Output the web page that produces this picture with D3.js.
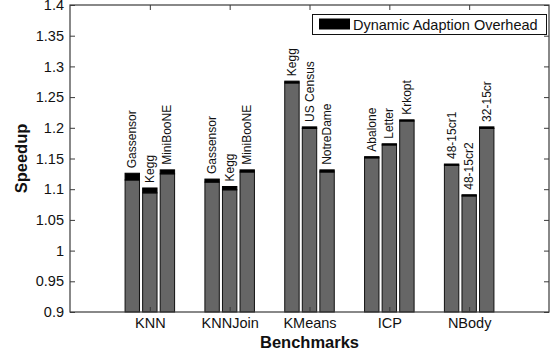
<!DOCTYPE html>
<html>
<head>
<meta charset="utf-8">
<script src="https://cdn.jsdelivr.net/npm/d3@7"></script>
<style>
  body { margin: 0; background: #fff; }
  svg text { font-family: "Liberation Sans", Arial, Helvetica, sans-serif; fill: #111; }
</style>
</head>
<body>
<div id="chart"></div>
<script>
// Benchmarks on the x axis
const benchmarks = ["KNN", "KNNJoin", "KMeans", "ICP", "NBody"];

// dataset label for each bar, per benchmark
const datasets = [
  ["Gassensor", "Kegg", "MiniBooNE"],
  ["Gassensor", "Kegg", "MiniBooNE"],
  ["Kegg", "US Census", "NotreDame"],
  ["Abalone", "Letter", "Krkopt"],
  ["48-15cr1", "48-15cr2", "32-15cr"]
];

// speedup without the adaption overhead (grey part)
const baseSpeedup = [
  [1.115, 1.094, 1.125],
  [1.1115, 1.099, 1.128],
  [1.273, 1.199, 1.128],
  [1.151, 1.172, 1.211],
  [1.139, 1.089, 1.199]
];

// dynamic adaption overhead (black cap)
const overhead = [
  [0.011, 0.008, 0.0065],
  [0.005, 0.0054, 0.0035],
  [0.003, 0.0025, 0.0035],
  [0.002, 0.002, 0.002],
  [0.002, 0.002, 0.0025]
];

const yTicks = [0.9, 0.95, 1, 1.05, 1.1, 1.15, 1.2, 1.25, 1.3, 1.35, 1.4];
const legendLabel = "Dynamic Adaption Overhead";

const width = 553, height = 356;
const margin = { top: 5, right: 4, bottom: 44, left: 70 };
const plotW = width - margin.left - margin.right;
const plotH = height - margin.top - margin.bottom;
const axisColor = "#3a3a3a";

const svg = d3.select("#chart").append("svg")
  .attr("width", width)
  .attr("height", height);

const g = svg.append("g")
  .attr("transform", `translate(${margin.left},${margin.top})`);

// categories sit at 1..5 on a 0..6 axis
const xScale = d3.scaleLinear().domain([0, 6]).range([0, plotW]);
const yScale = d3.scaleLinear().domain([0.9, 1.4]).range([plotH, 0]);
const subScale = d3.scaleBand().domain([0, 1, 2])
  .range([-0.33, 0.33]).paddingInner(0.18).paddingOuter(0.09);

// flatten into bar records
const bars = [];
benchmarks.forEach((b, i) => {
  datasets[i].forEach((name, j) => {
    bars.push({
      bench: b,
      name: name,
      pos: i + 1,
      sub: j,
      base: baseSpeedup[i][j],
      extra: overhead[i][j]
    });
  });
});

const barX = d => xScale(d.pos + subScale(d.sub));
const barW = xScale(subScale.bandwidth()) - xScale(0);

// grey bars
g.append("g").selectAll("rect")
  .data(bars)
  .join("rect")
  .attr("x", barX)
  .attr("width", barW)
  .attr("y", d => yScale(d.base))
  .attr("height", d => yScale(0.9) - yScale(d.base))
  .attr("fill", "#666")
  .attr("stroke", "#111")
  .attr("stroke-width", 1);

// overhead caps
g.append("g").selectAll("rect")
  .data(bars)
  .join("rect")
  .attr("x", barX)
  .attr("width", barW)
  .attr("y", d => yScale(d.base + d.extra))
  .attr("height", d => yScale(d.base) - yScale(d.base + d.extra))
  .attr("fill", "#000")
  .attr("stroke", "#000")
  .attr("stroke-width", 1);

// dataset labels above each bar
g.append("g").selectAll("text")
  .data(bars)
  .join("text")
  .attr("transform", d => {
    const cx = barX(d) + barW / 2 + 4;
    const cy = yScale(d.base + d.extra) - 5;
    return `translate(${cx},${cy}) rotate(-90)`;
  })
  .attr("text-anchor", "start")
  .style("font-size", "12px")
  .text(d => d.name);

// frame
g.append("rect")
  .attr("width", plotW)
  .attr("height", plotH)
  .attr("fill", "none")
  .attr("stroke", axisColor)
  .attr("stroke-width", 1.2);

// y axis (left) with inward ticks
const yAxis = g.append("g")
  .call(d3.axisLeft(yScale).tickValues(yTicks)
    .tickSize(-5).tickPadding(6).tickFormat(d => String(+d.toFixed(2))));
yAxis.select(".domain").remove();
yAxis.selectAll("line").attr("stroke", axisColor);
yAxis.selectAll("text").style("font-size", "14.5px").attr("fill", "#222");

// right ticks
const yRight = g.append("g")
  .attr("transform", `translate(${plotW},0)`)
  .call(d3.axisRight(yScale).tickValues(yTicks).tickSize(-5).tickFormat(""));
yRight.select(".domain").remove();
yRight.selectAll("line").attr("stroke", axisColor);

// x axis (bottom)
const xAxis = g.append("g")
  .attr("transform", `translate(0,${plotH})`)
  .call(d3.axisBottom(xScale).tickValues(d3.range(1, 6))
    .tickSize(-5).tickPadding(6).tickFormat(d => benchmarks[d - 1]));
xAxis.select(".domain").remove();
xAxis.selectAll("line").attr("stroke", axisColor);
xAxis.selectAll("text").style("font-size", "14.5px").attr("fill", "#222");

// top ticks
const xTop = g.append("g")
  .call(d3.axisTop(xScale).tickValues(d3.range(1, 6)).tickSize(-5).tickFormat(""));
xTop.select(".domain").remove();
xTop.selectAll("line").attr("stroke", axisColor);

// axis titles
svg.append("text")
  .attr("x", margin.left + xScale(3))
  .attr("y", 348)
  .attr("text-anchor", "middle")
  .style("font-size", "16.5px")
  .style("font-weight", "bold")
  .text("Benchmarks");

svg.append("text")
  .attr("transform", `translate(27,${margin.top + plotH / 2}) rotate(-90)`)
  .attr("text-anchor", "middle")
  .style("font-size", "16.5px")
  .style("font-weight", "bold")
  .text("Speedup");

// legend
const legend = svg.append("g").attr("transform", "translate(312.5,14.5)");
legend.append("rect")
  .attr("width", 234)
  .attr("height", 20)
  .attr("fill", "#fff")
  .attr("stroke", "#111")
  .attr("stroke-width", 1);
legend.append("rect")
  .attr("x", 6.5)
  .attr("y", 4)
  .attr("width", 31)
  .attr("height", 11)
  .attr("fill", "#000");
legend.append("text")
  .attr("x", 40.5)
  .attr("y", 15)
  .style("font-size", "14.5px")
  .text(legendLabel);
</script>
</body>
</html>
